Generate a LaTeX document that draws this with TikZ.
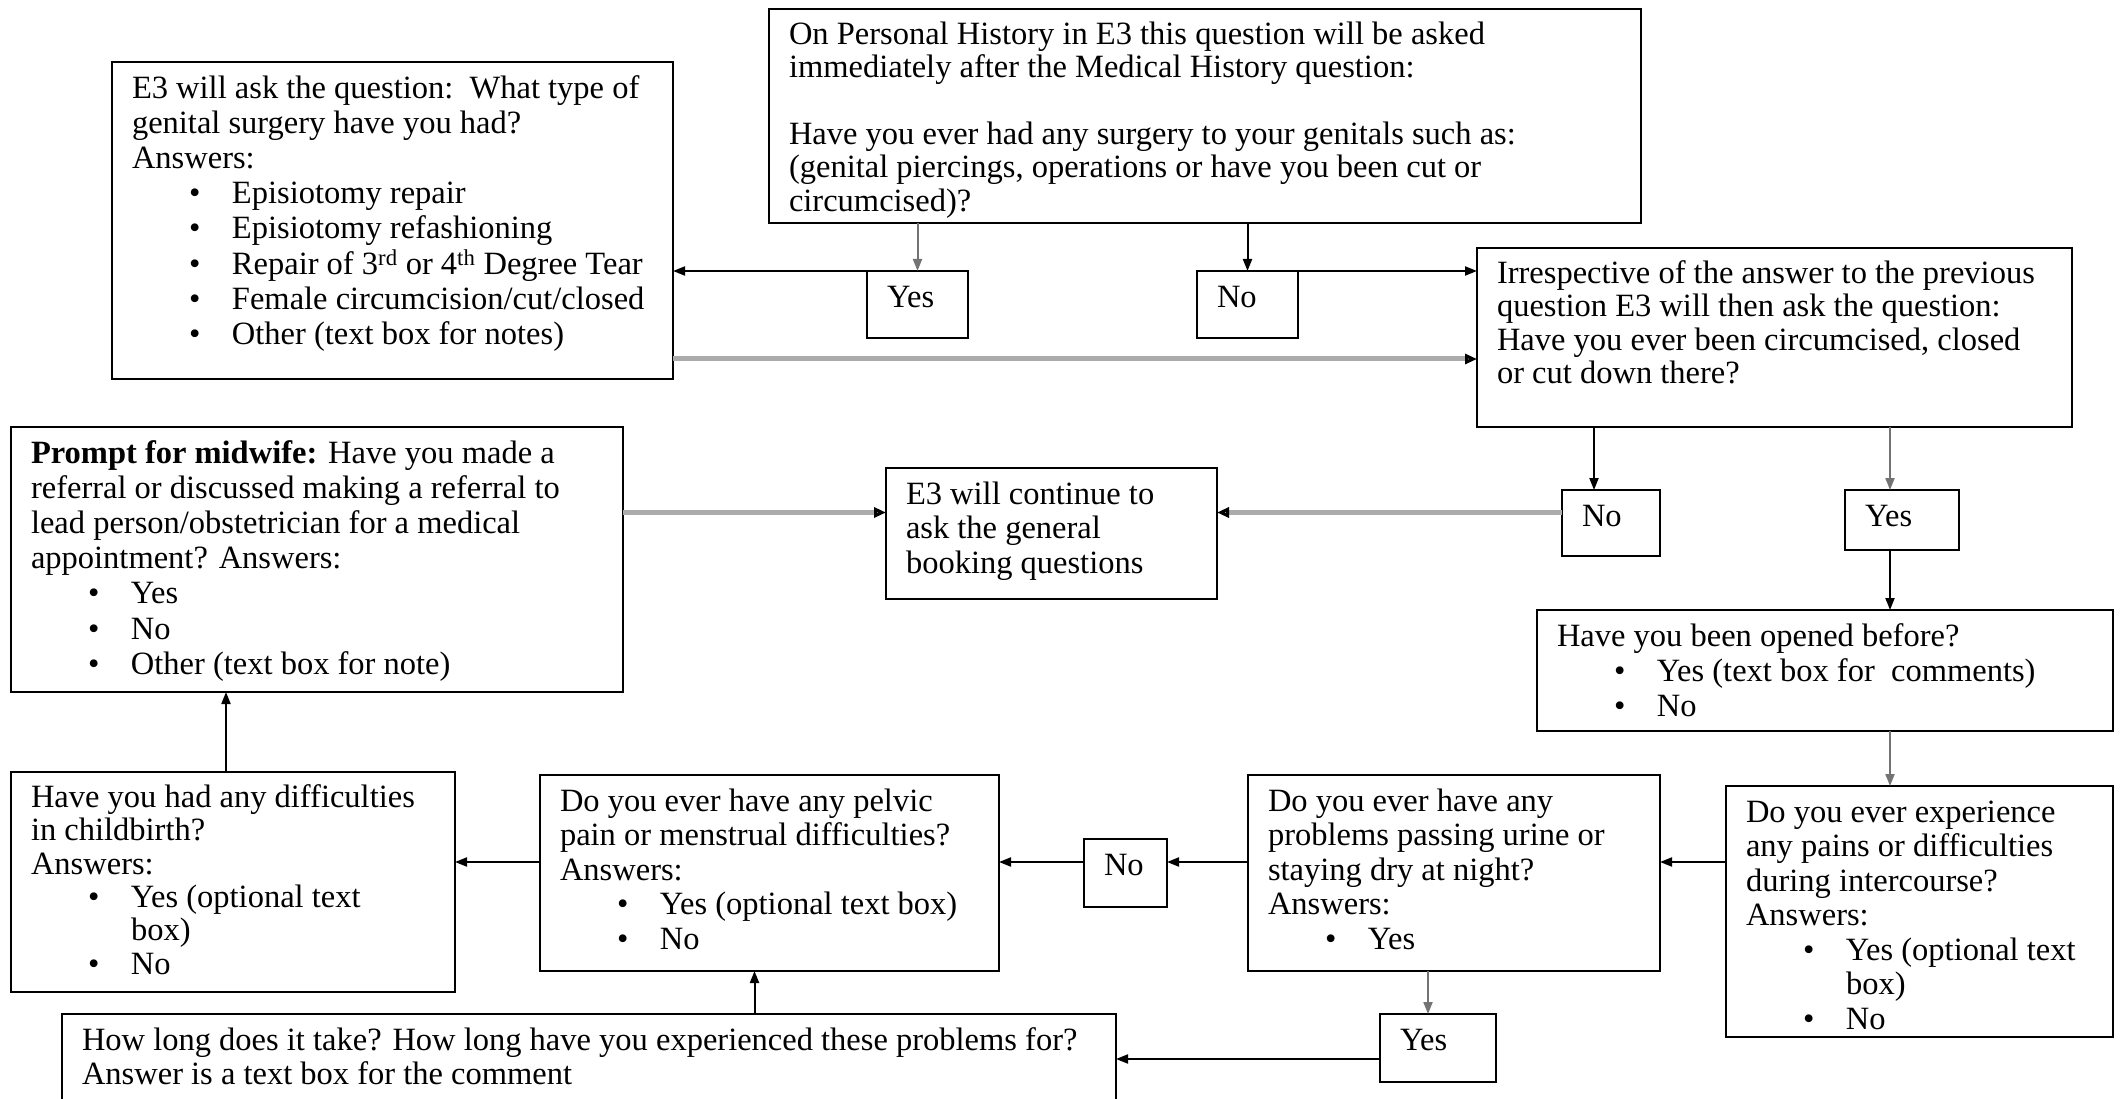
\documentclass[tikz,border=0pt]{standalone}
\usepackage{fontspec}
\setmainfont{Liberation Serif}
\usetikzlibrary{arrows.meta}

\newcommand{\bul}{\hspace*{57pt}\makebox[43pt][l]{\textbullet}}
\newcommand{\qtext}[3]{\parbox[c][\dimexpr#2pt-24pt\relax][t]{\dimexpr#1pt-40pt\relax}{\begin{tabular}[t]{@{}l@{}}#3\end{tabular}}}

\begin{document}
\begin{tikzpicture}[x=1pt, y=-1pt,
		qbox/.style={draw, line width=2.5pt, outer sep=0pt, inner xsep=20pt, inner ysep=12pt, anchor=north west, font=\fontsize{32.5}{34.5}\selectfont},
		tight/.style={font=\fontsize{32.5}{33.4}\selectfont},
		loose/.style={font=\fontsize{32.5}{35.1}\selectfont},
		flow/.style={line width=2pt, -{Triangle[length=12pt,width=9pt]}},
		flowgray/.style={flow, color=black!55},
		flowwide/.style={line width=5pt, color=black!33, -{Triangle[length=12pt,width=10pt,color=black]}}]
			\useasboundingbox (0,0) rectangle (2121,1099);
			
			\node[qbox, tight] (hist) at (769,9) {\qtext{872}{214}{On Personal History in E3 this question will be asked\\ immediately after the Medical History question:\\ \\ Have you ever had any surgery to your genitals such as:\\ (genital piercings, operations or have you been cut or\\ circumcised)?}};
			\node[qbox, loose] (surg) at (112,62) {\qtext{561}{317}{E3 will ask the question:\ \ What type of\\ genital surgery have you had?\\ Answers:\\ \bul Episiotomy repair\\ \bul Episiotomy refashioning\\ \bul Repair of 3\textsuperscript{rd} or 4\textsuperscript{th} Degree Tear\\ \bul Female circumcision/cut/closed\\ \bul Other (text box for notes)}};
			\node[qbox] (yesA) at (867,271) {\qtext{101}{67}{Yes}};
			\node[qbox] (noA) at (1197,271) {\qtext{101}{67}{No}};
			\node[qbox, tight] (circ) at (1477,248) {\qtext{595}{179}{Irrespective of the answer to the previous\\ question E3 will then ask the question:\\ Have you ever been circumcised, closed\\ or cut down there?}};
			\node[qbox, loose] (prompt) at (11,427) {\qtext{612}{265}{\textbf{Prompt for midwife:} Have you made a\\ referral or discussed making a referral to\\ lead person/obstetrician for a medical\\ appointment? Answers:\\ \bul Yes\\ \bul No\\ \bul Other (text box for note)}};
			\node[qbox] (cont) at (886,468) {\qtext{331}{131}{E3 will continue to\\ ask the general\\ booking questions}};
			\node[qbox] (noB) at (1562,490) {\qtext{98}{66}{No}};
			\node[qbox] (yesB) at (1845,490) {\qtext{114}{60}{Yes}};
			\node[qbox, loose] (opened) at (1537,610) {\qtext{576}{121}{Have you been opened before?\\ \bul Yes (text box for\ \ comments)\\ \bul No}};
			\node[qbox] (inter) at (1726,786) {\qtext{387}{251}{Do you ever experience\\ any pains or difficulties\\ during intercourse?\\ Answers:\\ \bul Yes (optional text\\ \hspace*{100pt}box)\\ \bul No}};
			\node[qbox] (urine) at (1248,775) {\qtext{412}{196}{Do you ever have any\\ problems passing urine or\\ staying dry at night?\\ Answers:\\ \bul Yes}};
			\node[qbox] (noC) at (1084,839) {\qtext{83}{68}{No}};
			\node[qbox] (pelvic) at (540,775) {\qtext{459}{196}{Do you ever have any pelvic\\ pain or menstrual difficulties?\\ Answers:\\ \bul Yes (optional text box)\\ \bul No}};
			\node[qbox, tight] (birth) at (11,772) {\qtext{444}{220}{Have you had any difficulties\\ in childbirth?\\ Answers:\\ \bul Yes (optional text\\ \hspace*{100pt}box)\\ \bul No}};
			\node[qbox] (yesC) at (1380,1014) {\qtext{116}{68}{Yes}};
			\node[qbox] (howlong) at (62,1014) {\qtext{1054}{110}{How long does it take? How long have you experienced these problems for?\\ Answer is a text box for the comment}};
			
			\coordinate (row) at ([yshift=11pt]noC.west);
			\coordinate (grey) at ([yshift=21pt]cont.west);
			
			\path[flowgray]
			(yesA.north |- hist.south) edge (yesA.north)
			([xshift=-12pt]yesB.north |- circ.south) edge ([xshift=-12pt]yesB.north)
			([xshift=-12pt]yesB.south |- opened.south) edge ([xshift=-12pt]yesB.south |- inter.north)
			([xshift=-10pt]yesC.north |- urine.south) edge ([xshift=-10pt]yesC.north);
			
			\path[flow]
			(noA.north |- hist.south) edge (noA.north)
			(yesA.north west) edge (yesA.north west -| surg.east)
			(noA.north east) edge (noA.north east -| circ.west)
			([xshift=-17pt]noB.north |- circ.south) edge ([xshift=-17pt]noB.north)
			([xshift=-12pt]yesB.south) edge ([xshift=-12pt]yesB.south |- opened.north)
			(inter.west |- row) edge (urine.east |- row)
			(urine.west |- row) edge (noC.east |- row)
			(noC.west |- row) edge (pelvic.east |- row)
			(pelvic.west |- row) edge (birth.east |- row)
			([xshift=-7pt]birth.north) edge ([xshift=-7pt]birth.north |- prompt.south)
			([xshift=-15pt]pelvic.south |- howlong.north) edge ([xshift=-15pt]pelvic.south)
			([yshift=-11pt]yesC.west) edge ([yshift=-11pt]yesC.west -| howlong.east);
			
			\path[flowwide]
			([yshift=20pt]surg.south east) edge ([yshift=20pt]surg.south east -| circ.west)
			(prompt.east |- grey) edge (grey)
			(noB.west |- grey) edge (cont.east |- grey);
			
\end{tikzpicture}
\end{document}
